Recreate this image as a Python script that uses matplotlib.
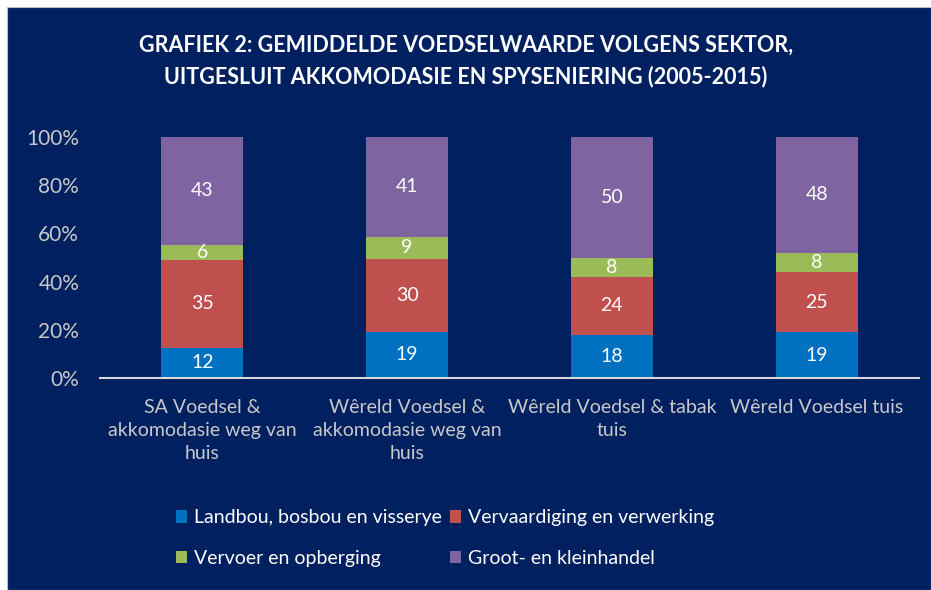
import matplotlib
matplotlib.use("Agg")
import matplotlib.pyplot as plt
from matplotlib.patches import Rectangle, Patch
import numpy as np

categories = ["SA Voedsel &\nakkomodasie weg van\nhuis",
              "Wêreld Voedsel &\nakkomodasie weg van\nhuis",
              "Wêreld Voedsel & tabak\ntuis",
              "Wêreld Voedsel tuis"]
series_names = ["Landbou, bosbou en visserye", "Vervaardiging en verwerking",
                "Vervoer en opberging", "Groot- en kleinhandel"]
landbou = [12, 19, 18, 19]
vervaardiging = [35, 30, 24, 25]
vervoer = [6, 9, 8, 8]
handel = [43, 41, 50, 48]
yticks = [0, 20, 40, 60, 80, 100]
ytick_labels = ["0%", "20%", "40%", "60%", "80%", "100%"]
title = "GRAFIEK 2: GEMIDDELDE VOEDSELWAARDE VOLGENS SEKTOR,\nUITGESLUIT AKKOMODASIE EN SPYSENIERING (2005-2015)"

colors = ["#0070C0", "#C0504D", "#9BBB59", "#8064A2"]
navy = "#002060"
FONT = ["Lato", "DejaVu Sans"]
plt.rcParams['font.family'] = FONT

W, H = 931, 590
fig = plt.figure(figsize=(W/100, H/100), dpi=100)
fig.patch.set_facecolor("white")
fig.patches.append(Rectangle((7/W, 0), 1 - 7/W, 1 - 7/H, transform=fig.transFigure,
                             facecolor=navy, edgecolor="#BFBFBF", linewidth=0.8, zorder=-10))

ax = fig.add_axes([100/W, 1 - 378/H, (919-100)/W, (378-137)/H])
ax.set_facecolor("none")

data = np.array([landbou, vervaardiging, vervoer, handel], dtype=float)
totals = data.sum(axis=0)
pct = data / totals * 100
x = np.arange(len(categories))
bottom = np.zeros(len(categories))
for i, name in enumerate(series_names):
    ax.bar(x, pct[i], 0.4, bottom=bottom, color=colors[i], label=name, zorder=2)
    for j in range(len(categories)):
        ax.text(x[j], bottom[j] + pct[i][j]/2, f"{int(data[i][j])}", ha="center", va="center",
                color="white", fontsize=14)
    bottom += pct[i]

ax.set_xlim(-0.5, len(categories) - 0.5)
ax.set_ylim(0, 100)
ax.set_yticks(yticks)
ax.set_yticklabels(ytick_labels, color="#C8C8C8", fontsize=15)
ax.set_xticks(x)
ax.set_xticklabels(categories, color="#C8C8C8", fontsize=14, linespacing=1.45)
ax.tick_params(axis="y", length=0, pad=15)
ax.tick_params(axis="x", length=0, pad=15)
for s in ["top", "right", "left"]:
    ax.spines[s].set_visible(False)
ax.spines["bottom"].set_color("#D9D9D9")
ax.spines["bottom"].set_linewidth(1.5)

fig.text(466/W, 1 - 61/H, title, ha="center", va="center", color="white",
         fontsize=15.5, fontweight="bold", linespacing=1.6)

order = [0, 2, 1, 3]
handles = [Patch(facecolor=colors[k], edgecolor="none") for k in order]
labels = [series_names[k] for k in order]
leg = fig.legend(handles, labels, ncol=2, loc="center", bbox_to_anchor=(445/W, 1 - 538/H),
                 frameon=False, fontsize=14, handlelength=0.6, handleheight=0.6,
                 handletextpad=0.35, columnspacing=0.4, labelspacing=1.2, labelcolor="white")

fig.savefig("out.png", dpi=100, facecolor=fig.get_facecolor())
